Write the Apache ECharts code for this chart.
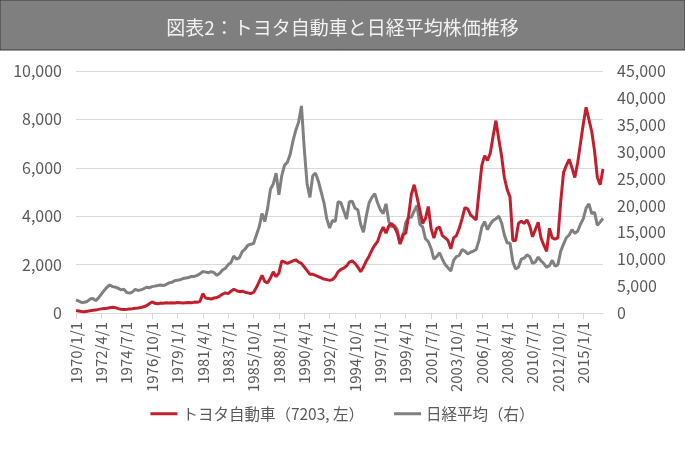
<!DOCTYPE html>
<html>
<head>
<meta charset="utf-8">
<script src="https://cdn.jsdelivr.net/npm/echarts@6/dist/echarts.min.js"></script>
<style>
  html, body { margin: 0; padding: 0; background: #fff; }
  #chart { width: 685px; height: 451px; }
</style>
</head>
<body>
<div id="chart"></div>
<script>
// 四半期データ (1970/1/1 〜 2016/10/1)
const startYear = 1970
const quarterMonths = [1, 4, 7, 10]

// トヨタ自動車 (7203, 左軸), 年ごとに4四半期
const toyota = [
    100, 80, 60, 50,            // 1970
    70, 90, 110, 120,           // 1971
    150, 170, 190, 200,         // 1972
    220, 240, 220, 180,         // 1973
    150, 140, 150, 170,         // 1974
    180, 200, 210, 230,         // 1975
    260, 300, 380, 460,         // 1976
    400, 380, 410, 400,         // 1977
    420, 410, 420, 410,         // 1978
    430, 420, 410, 420,         // 1979
    430, 420, 450, 440,         // 1980
    480, 800, 620, 600,         // 1981
    580, 620, 640, 700,         // 1982
    780, 830, 800, 900,         // 1983
    980, 920, 880, 900,         // 1984
    860, 830, 800, 850,         // 1985
    1050, 1300, 1550, 1300,     // 1986
    1250, 1450, 1700, 1500,     // 1987
    1650, 2150, 2100, 2050,     // 1988
    2100, 2150, 2200, 2100,     // 1989
    2050, 1900, 1750, 1600,     // 1990
    1600, 1550, 1500, 1450,     // 1991
    1400, 1380, 1350, 1380,     // 1992
    1500, 1700, 1800, 1850,     // 1993
    1950, 2100, 2150, 2050,     // 1994
    1900, 1700, 1900, 2150,     // 1995
    2350, 2600, 2800, 2950,     // 1996
    3300, 3550, 3300, 3600,     // 1997
    3700, 3550, 3300, 2850,     // 1998
    3250, 3300, 4000, 4900,     // 1999
    5300, 4800, 4250, 3700,     // 2000
    3900, 4400, 3500, 3100,     // 2001
    3500, 3550, 3200, 3100,     // 2002
    3000, 2650, 3100, 3200,     // 2003
    3500, 3900, 4350, 4300,     // 2004
    4050, 3950, 3850, 5000,     // 2005
    6100, 6500, 6300, 6600,     // 2006
    7300, 7950, 7200, 6500,     // 2007
    5600, 5100, 4800, 3000,     // 2008
    3000, 3700, 3800, 3700,     // 2009
    3850, 3600, 3150, 3450,     // 2010
    3750, 3100, 2800, 2550,     // 2011
    3500, 3100, 3050, 3100,     // 2012
    4600, 5800, 6100, 6350,     // 2013
    6000, 5600, 6200, 7000,     // 2014
    7800, 8500, 8000, 7500,     // 2015
    6700, 5600, 5300, 5950      // 2016
]

// 日経平均 (右軸)
const nikkei = [
    2450, 2200, 1950, 2000,     // 1970
    2150, 2600, 2700, 2300,     // 1971
    2800, 3500, 4200, 4800,     // 1972
    5200, 4900, 4800, 4600,     // 1973
    4300, 4400, 3800, 3700,     // 1974
    3900, 4400, 4200, 4300,     // 1975
    4500, 4800, 4700, 4900,     // 1976
    5000, 5100, 5200, 5100,     // 1977
    5300, 5600, 5700, 6000,     // 1978
    6100, 6200, 6400, 6500,     // 1979
    6600, 6800, 6800, 7000,     // 1980
    7300, 7700, 7600, 7500,     // 1981
    7700, 7500, 7000, 7400,     // 1982
    8000, 8300, 9000, 9400,     // 1983
    10600, 10000, 10300, 11400, // 1984
    11900, 12600, 12800, 12900, // 1985
    14500, 16000, 18500, 17000, // 1986
    19500, 23000, 24000, 26000, // 1987
    22000, 25500, 27500, 28000, // 1988
    29500, 32000, 34000, 35500, // 1989
    38500, 30500, 24000, 21500, // 1990
    25500, 26000, 24500, 22500, // 1991
    20500, 17500, 15800, 17200, // 1992
    17000, 20700, 20500, 19000, // 1993
    17500, 20700, 20800, 19500, // 1994
    19200, 16500, 15000, 18000, // 1995
    20500, 21500, 22200, 20500, // 1996
    19200, 18500, 20300, 17000, // 1997
    16000, 16300, 15500, 13000, // 1998
    14000, 16800, 17800, 17800, // 1999
    19000, 20000, 16500, 16000, // 2000
    13800, 13300, 12000, 10000, // 2001
    10500, 11200, 10000, 9000,  // 2002
    8400, 7800, 9800, 10500,    // 2003
    10700, 11800, 11500, 11000, // 2004
    11300, 11500, 11800, 13500, // 2005
    16000, 17000, 15500, 16500, // 2006
    17200, 17500, 18000, 16800, // 2007
    14500, 13000, 13000, 9500,  // 2008
    8200, 8500, 10000, 10200,   // 2009
    10800, 10500, 9200, 9500,   // 2010
    10400, 9700, 9200, 8500,    // 2011
    8800, 9800, 8700, 9000,     // 2012
    11500, 12800, 14000, 14500, // 2013
    15500, 14800, 15200, 16500, // 2014
    17500, 19500, 20300, 18500, // 2015
    18700, 16300, 16900, 17600  // 2016
]

// カテゴリ (例: 1970/1/1)
const categories = toyota.map((v, i) =>
    (startYear + Math.floor(i / 4)) + '/' + quarterMonths[i % 4] + '/1')

const fontFamily = '"Noto Sans CJK JP", "Noto Sans", sans-serif'
const textColor = '#595959'
const gridColor = '#d9d9d9'

let option = {
    animation: false,
    color: ['#c0202e', '#808080'],
    textStyle: { fontFamily: fontFamily },
    title: {
        text: '図表2：トヨタ自動車と日経平均株価推移',
        left: 'center',
        top: 13,
        z: 10,
        textStyle: {
            color: '#f2f2f2',
            fontSize: 19,
            fontWeight: 'normal',
            fontFamily: fontFamily
        }
    },
    graphic: [
        {
            type: 'rect',
            z: 0,
            shape: { x: 0, y: 0, width: 685, height: 50 },
            style: { fill: '#7f7f7f', stroke: '#3a3a3a', lineWidth: 1 }
        }
    ],
    legend: {
        data: ['トヨタ自動車（7203, 左）', '日経平均（右）'],
        left: 'center',
        top: 401,
        icon: 'rect',
        itemWidth: 27,
        itemHeight: 3,
        itemGap: 30,
        textStyle: {
            color: textColor,
            fontSize: 15.5,
            fontFamily: fontFamily
        }
    },
    grid: {
        left: 76,
        right: 82,
        top: 71,
        bottom: 138
    },
    xAxis: {
        type: 'category',
        boundaryGap: false,
        data: categories,
        axisLine: {
            lineStyle: { color: gridColor }
        },
        axisTick: {
            show: true,
            interval: 8,
            length: 6,
            lineStyle: { color: gridColor }
        },
        axisLabel: {
            interval: 8,
            rotate: 90,
            margin: 9,
            color: textColor,
            fontSize: 15,
            fontFamily: fontFamily
        }
    },
    yAxis: [
        {
            type: 'value',
            min: 0,
            max: 10000,
            interval: 2000,
            axisLine: { show: false },
            axisTick: { show: false },
            axisLabel: {
                margin: 14,
                color: textColor,
                fontSize: 16,
                fontFamily: fontFamily,
                formatter: v => v.toLocaleString('en-US')
            },
            splitLine: {
                lineStyle: { color: gridColor }
            }
        },
        {
            type: 'value',
            min: 0,
            max: 45000,
            interval: 5000,
            axisLine: { show: false },
            axisTick: { show: false },
            axisLabel: {
                margin: 14,
                color: textColor,
                fontSize: 16,
                fontFamily: fontFamily,
                formatter: v => v.toLocaleString('en-US')
            },
            splitLine: { show: false }
        }
    ],
    series: [
        {
            name: '日経平均（右）',
            type: 'line',
            yAxisIndex: 1,
            data: nikkei,
            symbol: 'none',
            z: 2,
            lineStyle: { width: 3, color: '#808080' },
            itemStyle: { color: '#808080' }
        },
        {
            name: 'トヨタ自動車（7203, 左）',
            type: 'line',
            yAxisIndex: 0,
            data: toyota,
            symbol: 'none',
            z: 3,
            lineStyle: { width: 3, color: '#c0202e' },
            itemStyle: { color: '#c0202e' }
        }
    ]
}

let chart = echarts.init(document.getElementById('chart'))
chart.setOption(option)
</script>
</body>
</html>
